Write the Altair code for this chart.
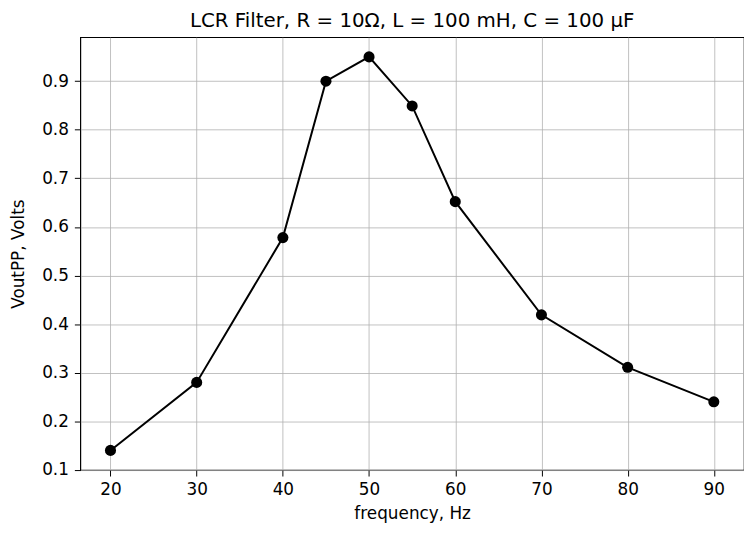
import altair as alt
import pandas as pd

freq = [20, 30, 40, 45, 50, 55, 60, 70, 80, 90]
vout = [0.14, 0.28, 0.578, 0.90, 0.95, 0.849, 0.652, 0.419, 0.311, 0.24]
x_ticks = [20, 30, 40, 50, 60, 70, 80, 90]
y_ticks = [0.1, 0.2, 0.3, 0.4, 0.5, 0.6, 0.7, 0.8, 0.9]

df = pd.DataFrame({"f": freq, "v": vout})

FONT = "DejaVu Sans"
LBL = 17

x = alt.X("f:Q", title="frequency, Hz",
          scale=alt.Scale(domain=[16.5, 93.5], nice=False, zero=False),
          axis=alt.Axis(values=x_ticks, format="d", grid=True, gridColor="#b0b0b0",
                        gridWidth=0.8, tickColor="black", tickSize=6, tickWidth=1, domain=False,
                        labelFont=FONT, labelFontSize=LBL, labelColor="black",
                        titleFont=FONT, titleFontSize=LBL, titleFontWeight="normal",
                        titleColor="black", labelPadding=6, titlePadding=8))
y = alt.Y("v:Q", title="VoutPP, Volts",
          scale=alt.Scale(domain=[0.0995, 0.9905], nice=False, zero=False),
          axis=alt.Axis(values=y_ticks, format=".1f", grid=True, gridColor="#b0b0b0",
                        gridWidth=0.8, tickColor="black", tickSize=6, tickWidth=1, domain=False,
                        labelFont=FONT, labelFontSize=LBL, labelColor="black",
                        titleFont=FONT, titleFontSize=LBL, titleFontWeight="normal",
                        titleColor="black", labelPadding=6, titlePadding=14))

line = alt.Chart(df).mark_line(color="black", strokeWidth=2).encode(x=x, y=y)
pts = alt.Chart(df).mark_circle(color="black", size=125, opacity=1).encode(x=x, y=y)

chart = (line + pts).properties(
    width=670, height=437,
    title=alt.Title("LCR Filter, R = 10Ω, L = 100 mH, C = 100 μF", font=FONT,
                    fontSize=20, fontWeight="normal", color="black", offset=6),
    autosize=alt.AutoSizeParams(type="none"),
    padding={"left": 73, "top": 27, "right": 0, "bottom": 57},
).configure_view(stroke="black", strokeWidth=1.2)

chart.save("out.html", embed_options={"renderer": "svg", "actions": False})
